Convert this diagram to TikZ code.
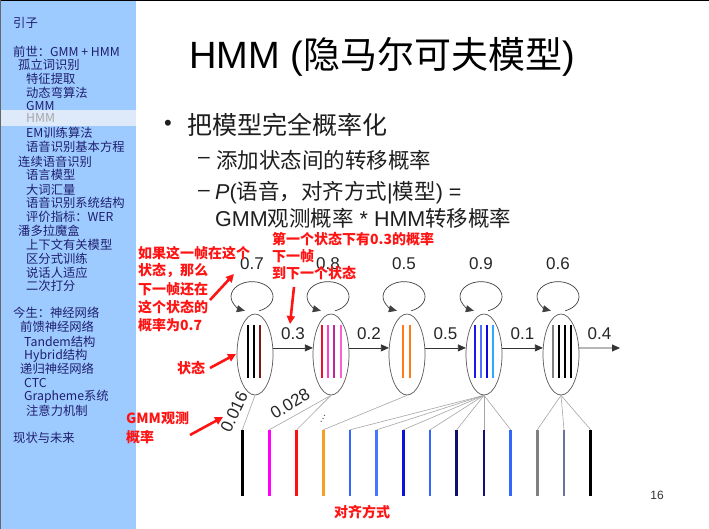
\documentclass[tikz,border=0pt]{standalone}
\usepackage{fontspec}
\setmainfont{Liberation Sans}
\newfontfamily\cjk{Noto Sans CJK SC}
\usetikzlibrary{arrows.meta,shapes.geometric}
\definecolor{sidebg}{RGB}{158,203,255}
\definecolor{sidehl}{RGB}{222,234,250}
\definecolor{sidetxt}{RGB}{30,30,110}
\definecolor{annot}{RGB}{255,20,20}
\definecolor{txt}{RGB}{30,30,30}
\definecolor{dred}{RGB}{130,25,25}
\definecolor{c2a}{RGB}{232,16,42}
\definecolor{c2b}{RGB}{255,63,207}
\definecolor{c2c}{RGB}{192,40,154}
\definecolor{c2d}{RGB}{255,95,208}
\definecolor{corange}{RGB}{255,122,28}
\definecolor{c4a}{RGB}{26,26,238}
\definecolor{c4b}{RGB}{80,112,255}
\definecolor{c4c}{RGB}{10,10,224}
\definecolor{c4d}{RGB}{47,168,255}
\definecolor{bmag}{RGB}{255,0,255}
\definecolor{bred}{RGB}{255,16,16}
\definecolor{borange}{RGB}{245,160,32}
\definecolor{broyal}{RGB}{51,102,255}
\definecolor{bcorn}{RGB}{68,119,255}
\definecolor{bblue}{RGB}{16,16,221}
\definecolor{bnavy}{RGB}{16,16,112}
\definecolor{bnavyb}{RGB}{16,16,128}
\definecolor{bgray}{RGB}{128,128,128}
\definecolor{bslate}{RGB}{112,112,160}
\begin{document}
\begin{tikzpicture}[x=1pt,y=1pt,
  navitem/.style={anchor=west,inner sep=0,text=sidetxt,font=\cjk\fontsize{12.3}{13}\selectfont},
  anno/.style={anchor=west,inner sep=0,text=annot,font=\cjk\bfseries\fontsize{14}{16}\selectfont},
  redarrow/.style={draw=annot,line width=2.6pt,-{Triangle[length=8pt,width=8pt]}},
  stateell/.style={ellipse,draw=black!65,line width=0.7pt,minimum width=36pt,minimum height=81pt,inner sep=0},
  harrow/.style={draw=black!80,line width=0.8pt,-{Triangle[length=8pt,width=7pt]}},
  selfloop/.style={draw=black!75,line width=0.7pt,-{Triangle[length=8pt,width=7pt]}},
  prob/.style={inner sep=0,text=black!85,font=\fontsize{17}{18}\selectfont},
  obsbar/.style={rectangle,inner sep=0,minimum width=2.5pt,minimum height=66pt},
  glink/.style={draw=black!35,line width=0.6pt},
  inbar/.style={line width=2.5pt}
]
\useasboundingbox (0,0) rectangle (709,-529);
\fill[white] (0,0) rectangle (709,-529);
% sidebar
\fill[sidebg] (0,0) rectangle (136,-529);
\fill[sidehl] (0,-110) rectangle (136,-126);
\draw[black,line width=1.2pt] (0,-0.6) -- (709,-0.6);
\draw[black!60,line width=1pt] (0.5,0) -- (0.5,-529);

\node[navitem] (n1) at (13,-23) {引子};
\node[navitem] (n2) at (13,-52) {前世：GMM + HMM};
\node[navitem] (n3) at (18,-65) {孤立词识别};
\node[navitem] (n4) at (26,-79) {特征提取};
\node[navitem] (n5) at (26,-93) {动态弯算法};
\node[navitem] (n6) at (26,-106) {GMM};
\node[navitem,text=black!35] (n7) at (26,-118) {HMM};
\node[navitem] (n8) at (26,-133) {EM训练算法};
\node[navitem] (n9) at (26,-147) {语音识别基本方程};
\node[navitem] (n10) at (18,-162) {连续语音识别};
\node[navitem] (n11) at (26,-175) {语言模型};
\node[navitem] (n12) at (26,-190) {大词汇量};
\node[navitem] (n13) at (26,-203) {语音识别系统结构};
\node[navitem] (n14) at (26,-217) {评价指标：WER};
\node[navitem] (n15) at (18,-231) {潘多拉魔盒};
\node[navitem] (n16) at (26,-245) {上下文有关模型};
\node[navitem] (n17) at (26,-259) {区分式训练};
\node[navitem] (n18) at (26,-273) {说话人适应};
\node[navitem] (n19) at (26,-286) {二次打分};
\node[navitem] (n20) at (13,-313) {今生：神经网络};
\node[navitem] (n21) at (20,-327) {前馈神经网络};
\node[navitem] (n22) at (24,-342) {Tandem结构};
\node[navitem] (n23) at (24,-356) {Hybrid结构};
\node[navitem] (n24) at (20,-369) {递归神经网络};
\node[navitem] (n25) at (24,-383) {CTC};
\node[navitem] (n26) at (24,-397) {Grapheme系统};
\node[navitem] (n27) at (26,-411) {注意力机制};
\node[navitem] (n28) at (13,-438) {现状与未来};

% title and bullets
\node[anchor=base west,inner sep=0,font=\fontsize{38}{40}\selectfont] (title) at (189,-69) {HMM ({\cjk\fontsize{37}{40}\selectfont 隐马尔可夫模型})};
\node[inner sep=0,text=txt,font=\fontsize{22}{24}\selectfont] (bul) at (168,-125) {•};
\node[anchor=west,inner sep=0,text=txt,font=\cjk\fontsize{25}{27}\selectfont] (l1) at (187,-125) {把模型完全概率化};
\node[inner sep=0,text=txt,font=\fontsize{21}{22}\selectfont] (d1) at (204,-160) {–};
\node[anchor=west,inner sep=0,text=txt,font=\cjk\fontsize{21.5}{23}\selectfont] (l2) at (216,-160) {添加状态间的转移概率};
\node[inner sep=0,text=txt,font=\fontsize{21}{22}\selectfont] (d2) at (204,-193) {–};
\node[anchor=base west,inner sep=0,text=txt,font=\fontsize{21.5}{23}\selectfont] (l3) at (215,-200) {\textit{P}({\cjk 语音，对齐方式}|{\cjk 模型}) =};
\node[anchor=base west,inner sep=0,text=txt,font=\fontsize{21.5}{23}\selectfont] (l4) at (215,-227) {GMM{\cjk 观测概率} * HMM{\cjk 转移概率}};

% states
\foreach \i/\x in {1/255,2/331,3/407,4/484,5/561}{
  \node[stateell] (s\i) at (\x,-354.5) {};
}
% bars inside states
\foreach \x/\c in {248/black,254/black,260/dred,
                   322/c2a,328/c2b,334/c2c,341/c2d,
                   403/corange,410/corange,
                   475/c4a,481/c4b,487/c4c,493/c4d,
                   553/bgray,559/black,565/black,571/black}{
  \draw[inbar,\c] (\x,-325) -- (\x,-378);
}
% self loops
\foreach \i/\lab in {1/0.7,2/0.8,3/0.5,4/0.9,5/0.6}{
  \draw[selfloop] ([shift={(4.2,2.9)}]s\i.north) arc[start angle=-70,end angle=250,x radius=21,y radius=15];
  \node[prob] (p\i) at ([shift={(-3,50.5)}]s\i.north) {\lab};
}
% transitions
\coordinate (exit) at (620,-348);
\draw[harrow] (s1.20) -- node[prob,yshift=14pt] (t1) {0.3} (s2.160);
\draw[harrow] (s2.20) -- node[prob,yshift=14pt] (t2) {0.2} (s3.160);
\draw[harrow] (s3.20) -- node[prob,yshift=14pt] (t3) {0.5} (s4.160);
\draw[harrow] (s4.20) -- node[prob,yshift=14pt] (t4) {0.1} (s5.160);
\draw[harrow] (s5.20) -- node[prob,yshift=14pt] (t5) {0.4} (exit);

% observation bars
\foreach \i/\x/\c in {1/242.3/black,2/269.3/bmag,3/296.7/bred,4/323.3/borange,
  5/350/broyal,6/376.7/bcorn,7/403.3/bblue,8/430/broyal,9/456.7/bnavy,
  10/484/bnavyb,11/510.7/broyal,12/537.3/bgray,13/564/bslate,14/590.7/black}{
  \node[obsbar,fill=\c] (b\i) at (\x,-463) {};
}
% emission links
\foreach \s/\b in {1/1,2/2,2/3,3/4,4/5,4/6,4/7,4/8,4/9,4/10,4/11,5/12,5/13,5/14}{
  \draw[glink] (s\s.south) -- (b\b.north);
}
\node[prob,rotate=65] (e1) at (234,-412) {0.016};
\node[prob,rotate=31] (e2) at (290,-404) {0.028};
\node[inner sep=0,rotate=60,text=black!70,font=\fontsize{11}{11}\selectfont] (dots) at (323,-419) {...};

% annotations
\node[anno] (a1) at (138,-253) {如果这一帧在这个};
\node[anno] (a2) at (138,-271) {状态，那么};
\node[anno] (a3) at (138,-289) {下一帧还在};
\node[anno] (a4) at (138,-307) {这个状态的};
\node[anno] (a5) at (138,-325) {概率为0.7};
\node[anno] (a6) at (272,-239) {第一个状态下有0.3的概率};
\node[anno] (a7) at (272,-256) {下一帧};
\node[anno] (a8) at (272,-273) {到下一个状态};
\node[anno] (a9) at (177,-368) {状态};
\node[anno] (a10) at (126,-418) {GMM观测};
\node[anno] (a11) at (126,-437) {概率};
\node[anno,anchor=center] (a12) at (362,-512) {对齐方式};
\node[inner sep=0,text=black!80,font=\fontsize{12}{12}\selectfont] (pg) at (657,-495) {16};

\coordinate (r1s) at (210,-300); \coordinate (r1e) at (234,-274);
\coordinate (r2s) at (294,-287); \coordinate (r2e) at (290,-324);
\coordinate (r3s) at (210,-368); \coordinate (r3e) at (236,-354);
\coordinate (r4s) at (190,-435); \coordinate (r4e) at (223,-417);
\draw[redarrow] (r1s) -- (r1e);
\draw[redarrow] (r2s) -- (r2e);
\draw[redarrow] (r3s) -- (r3e);
\draw[redarrow] (r4s) -- (r4e);
\end{tikzpicture}
\end{document}
